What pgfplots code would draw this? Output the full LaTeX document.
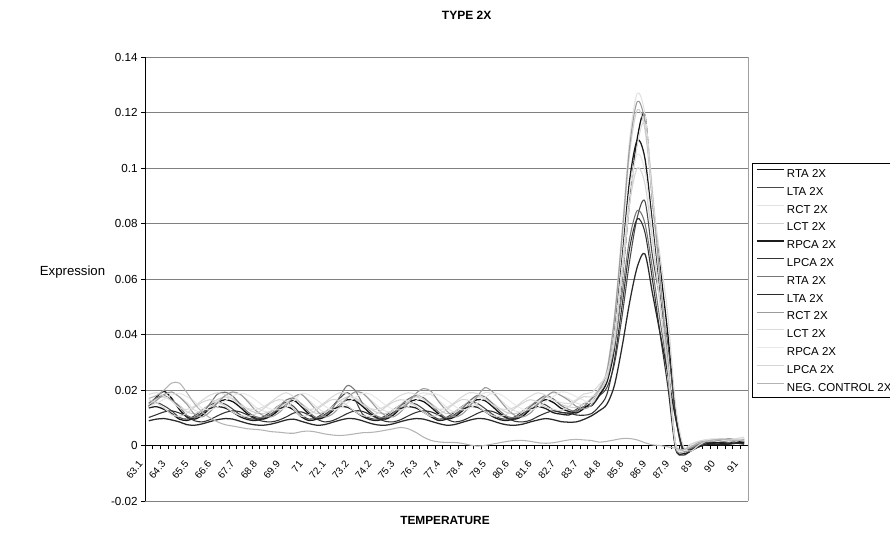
\documentclass[border=0pt]{standalone}
\usepackage{fontspec}
\setmainfont{Liberation Sans}
\usepackage{pgfplots}
\pgfplotsset{compat=1.18}
\definecolor{c1}{HTML}{111111}
\definecolor{c2}{HTML}{4A4A4A}
\definecolor{c3}{HTML}{E2E2E2}
\definecolor{c4}{HTML}{CFCFCF}
\definecolor{c5}{HTML}{1C1C1C}
\definecolor{c6}{HTML}{333333}
\definecolor{c7}{HTML}{777777}
\definecolor{c8}{HTML}{2A2A2A}
\definecolor{c9}{HTML}{9C9C9C}
\definecolor{c10}{HTML}{DADADA}
\definecolor{c11}{HTML}{E8E8E8}
\definecolor{c12}{HTML}{D5D5D5}
\definecolor{c13}{HTML}{B4B4B4}
\definecolor{gridc}{HTML}{808080}
\definecolor{framec}{HTML}{A0A0A0}
\begin{document}
\begin{tikzpicture}
\begin{axis}[
  at={(108.75pt,24.75pt)}, anchor=south west,
  width=452.25pt, height=333pt, scale only axis,
  xmin=-0.5, xmax=78.5, ymin=-0.02, ymax=0.14,
  axis x line*=middle, axis y line*=left,
  clip=false,
  xtick={0,3,...,78},
  xticklabels={63.1,64.3,65.5,66.6,67.7,68.8,69.9,71,72.1,73.2,74.2,75.3,76.3,77.4,78.4,79.5,80.6,81.6,82.7,83.7,84.8,85.8,86.9,87.9,89,90,91},
  minor xtick={-0.5,0.5,...,78.5},
  ytick={-0.02,0,0.02,0.04,0.06,0.08,0.1,0.12,0.14},
  yticklabels={-0.02,0,0.02,0.04,0.06,0.08,0.1,0.12,0.14},
  minor ytick={-0.02,0,0.02,0.04,0.06,0.08,0.1,0.12,0.14},
  major tick length=0pt, minor tick length=3pt,
  tick align=outside,
  tick style={black, line width=0.5pt},
  ymajorgrids,
  major grid style={draw=gridc, line width=0.6pt},
  axis line style={black, line width=0.6pt},
  xticklabel style={font=\fontsize{7.5}{8.5}\selectfont, xshift=-6pt, yshift=-12.5pt, rotate=50, anchor=east, inner sep=0pt},
  yticklabel style={font=\fontsize{8.75}{10}\selectfont, xshift=-2pt},
  legend style={at={(1.0066,0.761)}, anchor=north west, draw=black, line width=0.6pt, fill=white,
    font=\fontsize{8.6}{10}\selectfont, inner xsep=3pt, inner ysep=1pt, row sep=0pt, column sep=2pt,
    nodes={inner sep=0pt, text height=9.5pt, text depth=3.85pt}},
  legend cell align=left,
  legend image code/.code={\draw[#1] (0pt,3pt) -- (20pt,3pt);},
  every axis plot/.append style={no markers, smooth, line width=0.8pt},
]
\addplot[c1, line width=0.95pt] coordinates {(0,0.0141)(1,0.0175)(2,0.0195)(3,0.0170)(4,0.0130)(5,0.0102)(6,0.0095)(7,0.0109)(8,0.0134)(9,0.0155)(10,0.0165)(11,0.0158)(12,0.0137)(13,0.0113)(14,0.0099)(15,0.0095)(16,0.0106)(17,0.0127)(18,0.0151)(19,0.0162)(20,0.0140)(21,0.0113)(22,0.0095)(23,0.0102)(24,0.0123)(25,0.0148)(26,0.0165)(27,0.0162)(28,0.0141)(29,0.0116)(30,0.0099)(31,0.0095)(32,0.0109)(33,0.0134)(34,0.0155)(35,0.0165)(36,0.0158)(37,0.0137)(38,0.0113)(39,0.0095)(40,0.0102)(41,0.0123)(42,0.0148)(43,0.0165)(44,0.0162)(45,0.0141)(46,0.0116)(47,0.0099)(48,0.0095)(49,0.0106)(50,0.0130)(51,0.0151)(52,0.0165)(53,0.0155)(54,0.0134)(55,0.0123)(56,0.0117)(57,0.0133)(58,0.0157)(59,0.0186)(60,0.0227)(61,0.0350)(62,0.0596)(63,0.0883)(64,0.1108)(65,0.1190)(66,0.0880)(67,0.0640)(68,0.0400)(69,0.0120)(70,-0.0020)(71,-0.0010)(72,0.0005)(73,0.0010)(74,0.0008)(75,0.0012)(76,0.0010)(77,0.0015)(78,0.0010)};
\addlegendentry{RTA 2X}
\addplot[c2] coordinates {(0,0.0149)(1,0.0155)(2,0.0143)(3,0.0125)(4,0.0101)(5,0.0095)(6,0.0107)(7,0.0128)(8,0.0146)(9,0.0155)(10,0.0149)(11,0.0131)(12,0.0110)(13,0.0098)(14,0.0095)(15,0.0104)(16,0.0122)(17,0.0143)(18,0.0155)(19,0.0140)(20,0.0110)(21,0.0095)(22,0.0101)(23,0.0119)(24,0.0140)(25,0.0170)(26,0.0190)(27,0.0165)(28,0.0113)(29,0.0098)(30,0.0095)(31,0.0107)(32,0.0128)(33,0.0146)(34,0.0155)(35,0.0149)(36,0.0131)(37,0.0110)(38,0.0095)(39,0.0101)(40,0.0119)(41,0.0140)(42,0.0155)(43,0.0152)(44,0.0134)(45,0.0113)(46,0.0098)(47,0.0095)(48,0.0104)(49,0.0125)(50,0.0143)(51,0.0155)(52,0.0146)(53,0.0128)(54,0.0120)(55,0.0116)(56,0.0130)(57,0.0151)(58,0.0156)(59,0.0179)(60,0.0208)(61,0.0294)(62,0.0465)(63,0.0666)(64,0.0823)(65,0.0880)(66,0.0680)(67,0.0523)(68,0.0365)(69,0.0108)(70,-0.0025)(71,-0.0015)(72,0.0000)(73,0.0010)(74,0.0012)(75,0.0008)(76,0.0012)(77,0.0020)(78,0.0015)};
\addlegendentry{LTA 2X}
\addplot[c3] coordinates {(0,0.0148)(1,0.0166)(2,0.0183)(3,0.0190)(4,0.0176)(5,0.0155)(6,0.0127)(7,0.0120)(8,0.0134)(9,0.0159)(10,0.0180)(11,0.0190)(12,0.0183)(13,0.0162)(14,0.0138)(15,0.0124)(16,0.0120)(17,0.0131)(18,0.0152)(19,0.0176)(20,0.0183)(21,0.0162)(22,0.0138)(23,0.0120)(24,0.0127)(25,0.0148)(26,0.0173)(27,0.0190)(28,0.0187)(29,0.0166)(30,0.0141)(31,0.0124)(32,0.0120)(33,0.0134)(34,0.0159)(35,0.0180)(36,0.0190)(37,0.0183)(38,0.0162)(39,0.0138)(40,0.0120)(41,0.0127)(42,0.0148)(43,0.0173)(44,0.0190)(45,0.0187)(46,0.0166)(47,0.0141)(48,0.0124)(49,0.0120)(50,0.0131)(51,0.0155)(52,0.0176)(53,0.0190)(54,0.0180)(55,0.0169)(56,0.0153)(57,0.0147)(58,0.0158)(59,0.0205)(60,0.0271)(61,0.0468)(62,0.0776)(63,0.1105)(64,0.1270)(65,0.1193)(66,0.0919)(67,0.0611)(68,0.0315)(69,0.0000)(70,-0.0030)(71,-0.0010)(72,0.0010)(73,0.0020)(74,0.0025)(75,0.0020)(76,0.0015)(77,0.0025)(78,0.0020)};
\addlegendentry{RCT 2X}
\addplot[c4] coordinates {(0,0.0154)(1,0.0169)(2,0.0175)(3,0.0163)(4,0.0145)(5,0.0121)(6,0.0115)(7,0.0127)(8,0.0148)(9,0.0166)(10,0.0175)(11,0.0169)(12,0.0151)(13,0.0130)(14,0.0118)(15,0.0115)(16,0.0124)(17,0.0142)(18,0.0163)(19,0.0172)(20,0.0151)(21,0.0130)(22,0.0115)(23,0.0121)(24,0.0139)(25,0.0160)(26,0.0175)(27,0.0172)(28,0.0154)(29,0.0133)(30,0.0118)(31,0.0115)(32,0.0127)(33,0.0148)(34,0.0166)(35,0.0175)(36,0.0169)(37,0.0151)(38,0.0130)(39,0.0115)(40,0.0121)(41,0.0139)(42,0.0160)(43,0.0175)(44,0.0172)(45,0.0154)(46,0.0133)(47,0.0118)(48,0.0115)(49,0.0124)(50,0.0145)(51,0.0163)(52,0.0175)(53,0.0166)(54,0.0148)(55,0.0140)(56,0.0136)(57,0.0150)(58,0.0171)(59,0.0207)(60,0.0269)(61,0.0455)(62,0.0745)(63,0.1055)(64,0.1210)(65,0.1138)(66,0.0879)(67,0.0590)(68,0.0310)(69,0.0005)(70,-0.0025)(71,-0.0005)(72,0.0012)(73,0.0020)(74,0.0018)(75,0.0022)(76,0.0018)(77,0.0015)(78,0.0025)};
\addlegendentry{LCT 2X}
\addplot[c5, line width=0.95pt] coordinates {(0,0.0135)(1,0.0140)(2,0.0130)(3,0.0115)(4,0.0095)(5,0.0090)(6,0.0100)(7,0.0118)(8,0.0133)(9,0.0140)(10,0.0135)(11,0.0120)(12,0.0103)(13,0.0093)(14,0.0090)(15,0.0098)(16,0.0113)(17,0.0130)(18,0.0140)(19,0.0128)(20,0.0103)(21,0.0090)(22,0.0095)(23,0.0110)(24,0.0128)(25,0.0140)(26,0.0138)(27,0.0123)(28,0.0105)(29,0.0093)(30,0.0090)(31,0.0100)(32,0.0118)(33,0.0133)(34,0.0140)(35,0.0135)(36,0.0120)(37,0.0103)(38,0.0090)(39,0.0095)(40,0.0110)(41,0.0128)(42,0.0140)(43,0.0138)(44,0.0123)(45,0.0105)(46,0.0093)(47,0.0090)(48,0.0098)(49,0.0115)(50,0.0130)(51,0.0140)(52,0.0133)(53,0.0118)(54,0.0113)(55,0.0110)(56,0.0123)(57,0.0140)(58,0.0143)(59,0.0179)(60,0.0236)(61,0.0407)(62,0.0673)(63,0.0958)(64,0.1100)(65,0.1034)(66,0.0796)(67,0.0530)(68,0.0274)(69,-0.0005)(70,-0.0030)(71,-0.0020)(72,-0.0005)(73,0.0005)(74,0.0010)(75,0.0008)(76,0.0005)(77,0.0010)(78,0.0012)};
\addlegendentry{RPCA 2X}
\addplot[c6] coordinates {(0,0.0101)(1,0.0111)(2,0.0121)(3,0.0125)(4,0.0117)(5,0.0105)(6,0.0089)(7,0.0085)(8,0.0093)(9,0.0107)(10,0.0119)(11,0.0125)(12,0.0121)(13,0.0109)(14,0.0095)(15,0.0087)(16,0.0085)(17,0.0091)(18,0.0103)(19,0.0117)(20,0.0121)(21,0.0109)(22,0.0095)(23,0.0085)(24,0.0089)(25,0.0101)(26,0.0115)(27,0.0125)(28,0.0123)(29,0.0111)(30,0.0097)(31,0.0087)(32,0.0085)(33,0.0093)(34,0.0107)(35,0.0119)(36,0.0125)(37,0.0121)(38,0.0109)(39,0.0095)(40,0.0085)(41,0.0089)(42,0.0101)(43,0.0115)(44,0.0125)(45,0.0123)(46,0.0111)(47,0.0097)(48,0.0087)(49,0.0085)(50,0.0091)(51,0.0105)(52,0.0117)(53,0.0125)(54,0.0119)(55,0.0117)(56,0.0110)(57,0.0109)(58,0.0115)(59,0.0141)(60,0.0183)(61,0.0308)(62,0.0503)(63,0.0712)(64,0.0817)(65,0.0768)(66,0.0594)(67,0.0399)(68,0.0211)(69,-0.0010)(70,-0.0035)(71,-0.0020)(72,-0.0005)(73,0.0002)(74,0.0005)(75,0.0002)(76,0.0005)(77,0.0008)(78,0.0005)};
\addlegendentry{LPCA 2X}
\addplot[c7] coordinates {(0,0.0152)(1,0.0172)(2,0.0180)(3,0.0164)(4,0.0140)(5,0.0108)(6,0.0100)(7,0.0116)(8,0.0150)(9,0.0185)(10,0.0192)(11,0.0178)(12,0.0148)(13,0.0120)(14,0.0104)(15,0.0100)(16,0.0112)(17,0.0136)(18,0.0164)(19,0.0170)(20,0.0148)(21,0.0120)(22,0.0100)(23,0.0108)(24,0.0132)(25,0.0175)(26,0.0216)(27,0.0200)(28,0.0152)(29,0.0124)(30,0.0104)(31,0.0100)(32,0.0116)(33,0.0144)(34,0.0168)(35,0.0180)(36,0.0172)(37,0.0148)(38,0.0120)(39,0.0100)(40,0.0108)(41,0.0132)(42,0.0160)(43,0.0180)(44,0.0176)(45,0.0152)(46,0.0124)(47,0.0104)(48,0.0100)(49,0.0112)(50,0.0140)(51,0.0164)(52,0.0180)(53,0.0168)(54,0.0144)(55,0.0130)(56,0.0123)(57,0.0140)(58,0.0168)(59,0.0198)(60,0.0238)(61,0.0359)(62,0.0546)(63,0.0747)(64,0.0847)(65,0.0800)(66,0.0633)(67,0.0446)(68,0.0265)(69,0.0008)(70,-0.0020)(71,-0.0010)(72,0.0005)(73,0.0015)(74,0.0020)(75,0.0018)(76,0.0012)(77,0.0018)(78,0.0022)};
\addlegendentry{RTA 2X}
\addplot[c8, line width=0.95pt] coordinates {(0,0.0089)(1,0.0095)(2,0.0097)(3,0.0092)(4,0.0085)(5,0.0075)(6,0.0073)(7,0.0078)(8,0.0086)(9,0.0093)(10,0.0097)(11,0.0095)(12,0.0087)(13,0.0079)(14,0.0074)(15,0.0073)(16,0.0077)(17,0.0084)(18,0.0092)(19,0.0095)(20,0.0087)(21,0.0079)(22,0.0073)(23,0.0075)(24,0.0083)(25,0.0091)(26,0.0097)(27,0.0096)(28,0.0089)(29,0.0080)(30,0.0074)(31,0.0073)(32,0.0078)(33,0.0086)(34,0.0093)(35,0.0097)(36,0.0095)(37,0.0087)(38,0.0079)(39,0.0073)(40,0.0075)(41,0.0083)(42,0.0091)(43,0.0097)(44,0.0096)(45,0.0089)(46,0.0080)(47,0.0074)(48,0.0073)(49,0.0077)(50,0.0085)(51,0.0092)(52,0.0097)(53,0.0093)(54,0.0086)(55,0.0084)(56,0.0085)(57,0.0094)(58,0.0107)(59,0.0125)(60,0.0148)(61,0.0217)(62,0.0355)(63,0.0517)(64,0.0644)(65,0.0690)(66,0.0546)(67,0.0402)(68,0.0257)(69,0.0100)(70,-0.0010)(71,-0.0015)(72,-0.0005)(73,0.0003)(74,0.0005)(75,0.0003)(76,0.0006)(77,0.0008)(78,0.0006)};
\addlegendentry{LTA 2X}
\addplot[c9] coordinates {(0,0.0139)(1,0.0162)(2,0.0184)(3,0.0193)(4,0.0175)(5,0.0148)(6,0.0112)(7,0.0103)(8,0.0121)(9,0.0153)(10,0.0180)(11,0.0193)(12,0.0184)(13,0.0157)(14,0.0126)(15,0.0108)(16,0.0103)(17,0.0117)(18,0.0144)(19,0.0175)(20,0.0184)(21,0.0157)(22,0.0126)(23,0.0103)(24,0.0112)(25,0.0139)(26,0.0171)(27,0.0193)(28,0.0189)(29,0.0162)(30,0.0130)(31,0.0108)(32,0.0103)(33,0.0121)(34,0.0153)(35,0.0188)(36,0.0205)(37,0.0195)(38,0.0157)(39,0.0126)(40,0.0103)(41,0.0112)(42,0.0139)(43,0.0175)(44,0.0208)(45,0.0195)(46,0.0162)(47,0.0130)(48,0.0108)(49,0.0103)(50,0.0117)(51,0.0148)(52,0.0175)(53,0.0193)(54,0.0180)(55,0.0163)(56,0.0141)(57,0.0132)(58,0.0146)(59,0.0199)(60,0.0264)(61,0.0457)(62,0.0757)(63,0.1079)(64,0.1240)(65,0.1165)(66,0.0897)(67,0.0596)(68,0.0306)(69,0.0000)(70,-0.0020)(71,-0.0005)(72,0.0010)(73,0.0018)(74,0.0015)(75,0.0020)(76,0.0025)(77,0.0020)(78,0.0015)};
\addlegendentry{RCT 2X}
\addplot[c10] coordinates {(0,0.0184)(1,0.0190)(2,0.0178)(3,0.0160)(4,0.0136)(5,0.0130)(6,0.0142)(7,0.0163)(8,0.0181)(9,0.0190)(10,0.0184)(11,0.0166)(12,0.0145)(13,0.0133)(14,0.0130)(15,0.0139)(16,0.0157)(17,0.0178)(18,0.0190)(19,0.0175)(20,0.0145)(21,0.0130)(22,0.0136)(23,0.0154)(24,0.0175)(25,0.0190)(26,0.0187)(27,0.0169)(28,0.0148)(29,0.0133)(30,0.0130)(31,0.0142)(32,0.0163)(33,0.0181)(34,0.0190)(35,0.0184)(36,0.0166)(37,0.0145)(38,0.0130)(39,0.0136)(40,0.0154)(41,0.0175)(42,0.0190)(43,0.0187)(44,0.0169)(45,0.0148)(46,0.0133)(47,0.0130)(48,0.0139)(49,0.0160)(50,0.0178)(51,0.0190)(52,0.0181)(53,0.0163)(54,0.0155)(55,0.0151)(56,0.0165)(57,0.0186)(58,0.0191)(59,0.0219)(60,0.0258)(61,0.0373)(62,0.0603)(63,0.0872)(64,0.1083)(65,0.1160)(66,0.0891)(67,0.0680)(68,0.0469)(69,0.0150)(70,0.0000)(71,-0.0020)(72,0.0000)(73,0.0015)(74,0.0020)(75,0.0025)(76,0.0020)(77,0.0025)(78,0.0030)};
\addlegendentry{LCT 2X}
\addplot[c11] coordinates {(0,0.0140)(1,0.0152)(2,0.0167)(3,0.0182)(4,0.0188)(5,0.0176)(6,0.0158)(7,0.0134)(8,0.0128)(9,0.0140)(10,0.0161)(11,0.0179)(12,0.0188)(13,0.0182)(14,0.0164)(15,0.0143)(16,0.0131)(17,0.0128)(18,0.0137)(19,0.0160)(20,0.0188)(21,0.0182)(22,0.0164)(23,0.0143)(24,0.0128)(25,0.0134)(26,0.0152)(27,0.0173)(28,0.0188)(29,0.0185)(30,0.0167)(31,0.0146)(32,0.0131)(33,0.0128)(34,0.0140)(35,0.0161)(36,0.0179)(37,0.0188)(38,0.0182)(39,0.0164)(40,0.0143)(41,0.0128)(42,0.0134)(43,0.0152)(44,0.0173)(45,0.0188)(46,0.0185)(47,0.0167)(48,0.0146)(49,0.0131)(50,0.0128)(51,0.0137)(52,0.0158)(53,0.0176)(54,0.0193)(55,0.0189)(56,0.0176)(57,0.0163)(58,0.0154)(59,0.0190)(60,0.0243)(61,0.0402)(62,0.0651)(63,0.0917)(64,0.1050)(65,0.0988)(66,0.0766)(67,0.0518)(68,0.0278)(69,0.0005)(70,-0.0020)(71,0.0000)(72,0.0015)(73,0.0020)(74,0.0025)(75,0.0020)(76,0.0015)(77,0.0020)(78,0.0025)};
\addlegendentry{RPCA 2X}
\addplot[c12] coordinates {(0,0.0165)(1,0.0153)(2,0.0135)(3,0.0111)(4,0.0105)(5,0.0117)(6,0.0138)(7,0.0156)(8,0.0165)(9,0.0159)(10,0.0141)(11,0.0120)(12,0.0108)(13,0.0105)(14,0.0114)(15,0.0132)(16,0.0153)(17,0.0165)(18,0.0159)(19,0.0130)(20,0.0105)(21,0.0111)(22,0.0129)(23,0.0150)(24,0.0165)(25,0.0162)(26,0.0144)(27,0.0123)(28,0.0108)(29,0.0105)(30,0.0117)(31,0.0138)(32,0.0156)(33,0.0165)(34,0.0159)(35,0.0141)(36,0.0120)(37,0.0105)(38,0.0111)(39,0.0129)(40,0.0150)(41,0.0165)(42,0.0162)(43,0.0144)(44,0.0123)(45,0.0108)(46,0.0105)(47,0.0114)(48,0.0135)(49,0.0153)(50,0.0165)(51,0.0156)(52,0.0138)(53,0.0130)(54,0.0126)(55,0.0140)(56,0.0161)(57,0.0176)(58,0.0175)(59,0.0194)(60,0.0244)(61,0.0393)(62,0.0626)(63,0.0875)(64,0.1000)(65,0.0942)(66,0.0734)(67,0.0501)(68,0.0277)(69,0.0010)(70,-0.0015)(71,0.0005)(72,0.0015)(73,0.0020)(74,0.0018)(75,0.0025)(76,0.0020)(77,0.0022)(78,0.0018)};
\addlegendentry{LPCA 2X}
\addplot[c13] coordinates {(0,0.0170)(1,0.0180)(2,0.0200)(3,0.0225)(4,0.0225)(5,0.0190)(6,0.0150)(7,0.0120)(8,0.0100)(9,0.0085)(10,0.0075)(11,0.0070)(12,0.0065)(13,0.0060)(14,0.0058)(15,0.0055)(16,0.0050)(17,0.0048)(18,0.0045)(19,0.0044)(20,0.0050)(21,0.0052)(22,0.0048)(23,0.0042)(24,0.0038)(25,0.0036)(26,0.0038)(27,0.0042)(28,0.0046)(29,0.0047)(30,0.0050)(31,0.0055)(32,0.0060)(33,0.0065)(34,0.0060)(35,0.0047)(36,0.0030)(37,0.0018)(38,0.0013)(39,0.0011)(40,0.0011)(41,0.0008)(42,0.0002)(43,-0.0002)(44,0.0000)(45,0.0005)(46,0.0010)(47,0.0015)(48,0.0018)(49,0.0018)(50,0.0015)(51,0.0010)(52,0.0008)(53,0.0010)(54,0.0015)(55,0.0020)(56,0.0022)(57,0.0020)(58,0.0018)(59,0.0012)(60,0.0015)(61,0.0020)(62,0.0025)(63,0.0025)(64,0.0020)(65,0.0010)(66,0.0002)(67,0.0000)(68,-0.0005)(69,-0.0010)(70,-0.0015)(71,-0.0005)(72,0.0008)(73,0.0015)(74,0.0020)(75,0.0022)(76,0.0020)(77,0.0018)(78,0.0020)};
\addlegendentry{NEG. CONTROL 2X}
\draw[framec, line width=0.6pt] (rel axis cs:1,0) -- (rel axis cs:1,1);
\end{axis}
\node[font=\bfseries\fontsize{9}{10}\selectfont] at (350pt,389.25pt) {TYPE 2X};
\node[font=\bfseries\fontsize{8.9}{10}\selectfont] at (333.75pt,10.5pt) {TEMPERATURE};
\node[font=\fontsize{9.9}{11}\selectfont] at (54.4pt,196.5pt) {Expression};
\pgfresetboundingbox
\useasboundingbox (0pt,0pt) rectangle (667.5pt,400.5pt);
\end{tikzpicture}
\end{document}
